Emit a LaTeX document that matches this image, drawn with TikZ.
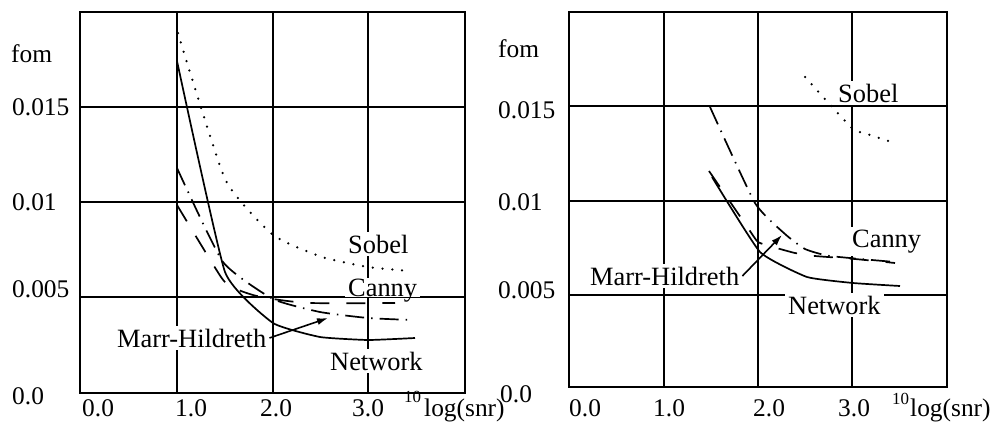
\documentclass[tikz,border=0pt]{standalone}
\usepackage{fontspec}
\setmainfont{Liberation Serif}
\usetikzlibrary{arrows.meta}
\begin{document}
\begin{tikzpicture}[x=1bp,y=-1bp,
  gridline/.style={line width=1.9bp},
  ax/.style={anchor=base west,inner sep=0pt,font=\fontsize{25.5}{30}\selectfont},
  supfont/.style={anchor=base west,inner sep=0pt,font=\fontsize{17}{20}\selectfont},
  lbl/.style={anchor=base west,fill=white,inner sep=3bp,font=\fontsize{26.5}{31}\selectfont},
  network/.style={line width=1.7bp,line join=round},
  canny/.style={line width=1.7bp,dash pattern=on 19bp off 17bp},
  marr/.style={line width=1.7bp,dash pattern=on 19bp off 7bp on 1.5bp off 7bp},
  sobel/.style={line width=2.5bp,line cap=round,dash pattern=on 0bp off 9.8bp},
  pointer/.style={line width=1.6bp,-{Latex[length=11bp,width=7bp]}}
]
\fill[white] (0,0) rectangle (995,423);
\useasboundingbox (0,0) rectangle (995,423);

% ---------- left panel ----------
\draw[gridline] (80,12) rectangle (465,393);
\foreach \gx in {177,273,368} \draw[gridline] (\gx,12) -- (\gx,393);
\foreach \gy in {107,202,297} \draw[gridline] (80,\gy) -- (465,\gy);

\draw[sobel] plot[smooth,tension=0.3] coordinates {(178,33) (225,179) (273,235) (322,257) (368,267) (410,271)};
\draw[network] plot[smooth,tension=0.25] coordinates {(177,61) (225,272) (273,323) (320,337) (368,340) (415,338)};
\draw[canny] plot[smooth,tension=0.4] coordinates {(177,205) (221,277) (234,288) (253,295) (273,299) (310,303) (395,303)};
\draw[marr] plot[smooth,tension=0.3] coordinates {(177,168) (223,262) (273,299) (320,312) (368,318) (412,320)};

\node[ax] (fomL) at (11,62) {fom};
\node[ax] (y15L) at (12,115) {0.015};
\node[ax] (y10L) at (12,210) {0.01};
\node[ax] (y05L) at (12,297) {0.005};
\node[ax] (y00L) at (12,404) {0.0};
\node[ax] (x0L) at (82,416) {0.0};
\node[ax] (x1L) at (175,416) {1.0};
\node[ax] (x2L) at (260,416) {2.0};
\node[ax] (x3L) at (352,416) {3.0};
\node[supfont] (tenL) at (404,402) {10};
\node[ax] (logL) at (424,416) {log(snr)};

\node[lbl] (sobelL) at (345,253) {Sobel};
\node[lbl,text depth=0pt,inner ysep=0.5bp] (cannyL) at (345,296) {Canny};
\node[lbl] (mhL) at (114,347) {Marr-Hildreth};
\node[lbl] (netL) at (327,370) {Network};
\coordinate (mhLtip) at (328,318);
\draw[pointer] (mhL.east) -- (mhLtip);

% ---------- right panel ----------
\draw[gridline] (569,12) rectangle (947,387);
\foreach \gx in {664,758,852} \draw[gridline] (\gx,12) -- (\gx,387);
\foreach \gy in {106,201,295} \draw[gridline] (569,\gy) -- (947,\gy);

\draw[sobel] plot[smooth,tension=0.3] coordinates {(805,77) (852,128) (870,135) (895,143)};
\draw[network] plot[smooth,tension=0.25] coordinates {(712,177) (760,252) (807,277) (853,283) (900,286)};
\draw[canny] plot[smooth,tension=0.3] coordinates {(709,171) (748,228) (758,242) (773,247) (795,253) (815,256) (855,259) (895,263)};
\draw[marr] plot[smooth,tension=0.3] coordinates {(710,107) (755,203) (785,234) (805,249) (830,256) (895,262)};

\node[ax] (fomR) at (498,57) {fom};
\node[ax] (y15R) at (498,118) {0.015};
\node[ax] (y10R) at (498,210) {0.01};
\node[ax] (y05R) at (498,298) {0.005};
\node[ax] (y00R) at (500,402) {0.0};
\node[ax] (x0R) at (569,416) {0.0};
\node[ax] (x1R) at (653,416) {1.0};
\node[ax] (x2R) at (753,416) {2.0};
\node[ax] (x3R) at (838,416) {3.0};
\node[supfont] (tenR) at (892,404) {10};
\node[ax] (logR) at (910,416) {log(snr)};

\node[lbl] (sobelR) at (835,102) {Sobel};
\node[lbl] (cannyR) at (849,247) {Canny};
\node[lbl] (mhR) at (587,285) {Marr-Hildreth};
\node[lbl] (netR) at (785,314) {Network};
\coordinate (mhRtip) at (782,235);
\draw[pointer] (mhR.east) -- (mhRtip);
\end{tikzpicture}
\end{document}
